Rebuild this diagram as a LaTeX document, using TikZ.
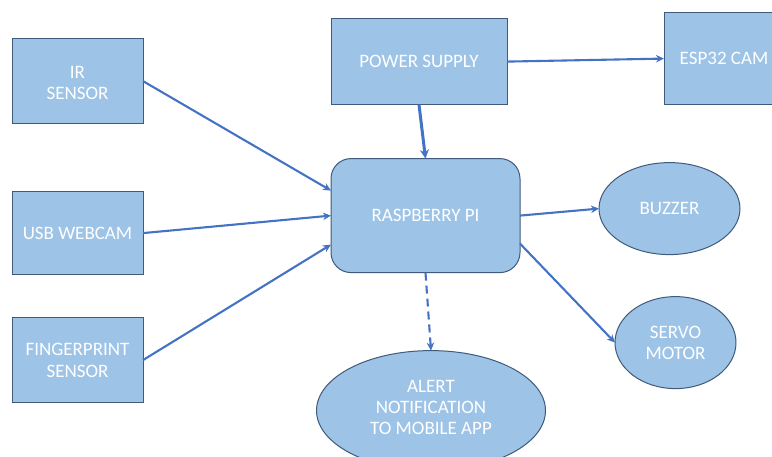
\documentclass[tikz,border=0pt]{standalone}
\usepackage{fontspec}
\setmainfont{Carlito}
\usetikzlibrary{shapes.geometric,arrows.meta}
\definecolor{boxfill}{HTML}{9DC3E6}
\definecolor{boxline}{HTML}{3F5A7A}
\definecolor{arrowblue}{HTML}{4472C4}
\newcommand{\pushdown}[2]{\raisebox{0pt}[\dimexpr\height+2\dimexpr#1\relax\relax][\depth]{\begin{tabular}{@{}c@{}}#2\end{tabular}}}
\newcommand{\pushup}[2]{\raisebox{0pt}[\height][\dimexpr\depth+2\dimexpr#1\relax\relax]{\begin{tabular}{@{}c@{}}#2\end{tabular}}}
\tikzset{
  base/.style={draw=boxline,fill=boxfill,line width=1pt,text=white,align=center,inner sep=0pt,outer sep=0pt,font=\fontsize{19}{21.3}\selectfont},
  sqbox/.style={base,rectangle,anchor=center},
  roundbox/.style={base,rectangle,rounded corners=20pt},
  oval/.style={base,ellipse},
  link/.style={draw=arrowblue,line width=2.1pt,-{Stealth[length=8pt,width=7.5pt]}},
  thicklink/.style={draw=arrowblue,line width=3pt,-{Stealth[length=9pt,width=9pt]}},
  dashlink/.style={link,dash pattern=on 8pt off 5pt},
}
\begin{document}
\begin{tikzpicture}[x=1pt,y=-1pt]
\useasboundingbox (0,-0.6) rectangle (772,456.4);
\clip (0,-0.6) rectangle (772,456.4);
\node[sqbox,minimum width=131pt,minimum height=85pt] (ir) at (77.5,80.5) {\pushdown{3.5pt}{IR\\SENSOR}};
\node[sqbox,minimum width=131pt,minimum height=83pt] (usb) at (77.5,232.5) {USB WEBCAM};
\node[sqbox,minimum width=131pt,minimum height=85pt] (finger) at (77.5,359.5) {\pushdown{2pt}{FINGERPRINT\\SENSOR}};
\node[sqbox,minimum width=176pt,minimum height=86pt] (power) at (419,61) {POWER SUPPLY};
\node[sqbox,minimum width=120pt,minimum height=92pt] (esp) at (724,58) {ESP32 CAM};
\node[roundbox,minimum width=189pt,minimum height=114pt] (pi) at (425.5,215) {RASPBERRY PI};
\node[oval,minimum width=141pt,minimum height=92pt] (buzzer) at (669.5,208) {BUZZER};
\node[oval,minimum width=121pt,minimum height=92pt] (servo) at (675.5,342) {\pushdown{2pt}{SERVO\\MOTOR}};
\node[oval,minimum width=229pt,minimum height=120pt] (alert) at (431,410) {\pushup{1.5pt}{ALERT\\NOTIFICATION\\TO MOBILE APP}};
\coordinate (piA) at (331,190);
\coordinate (piB) at (331,244);
\coordinate (piC) at (520,243);
\coordinate (powB) at (419,104);
\draw[link] (ir.east) -- (piA);
\draw[link] (usb.east) -- (pi.west);
\draw[link] (finger.east) -- (piB);
\draw[link] (power.east) -- (esp.west);
\draw[thicklink] (powB) -- (pi.north);
\draw[link] (pi.east) -- (buzzer.west);
\draw[link] (piC) -- (servo.west);
\draw[dashlink] (pi.south) -- (alert.north);
\end{tikzpicture}
\end{document}
